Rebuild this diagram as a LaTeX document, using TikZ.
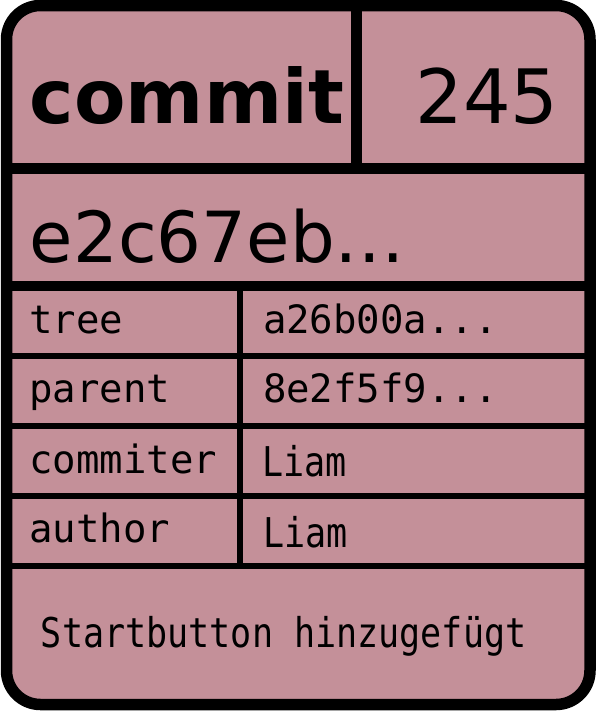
\documentclass[tikz,border=0pt]{standalone}
\usepackage{fontspec}
\newfontfamily\sansdv{DejaVu Sans}
\newfontfamily\monodv{DejaVu Sans Mono}
\newfontfamily\monodvnarrow[FakeStretch=0.855]{DejaVu Sans Mono}
\definecolor{cardfill}{RGB}{196,144,153}
\tikzset{
  frame/.style={draw=black, line width=11.5pt, fill=cardfill, rounded corners=34pt},
  heavyrule/.style={draw=black, line width=11pt, line cap=butt},
  lightrule/.style={draw=black, line width=6pt, line cap=butt},
  txt/.style={anchor=base west, inner sep=0pt, outer sep=0pt, text=black},
  title/.style={txt, font=\sansdv\bfseries\fontsize{75}{75}\selectfont},
  bignum/.style={txt, font=\sansdv\fontsize{75}{75}\selectfont},
  hash/.style={txt, font=\sansdv\fontsize{70.5}{70.5}\selectfont},
  field/.style={txt, font=\monodv\fontsize{39}{39}\selectfont},
  narrow/.style={txt, font=\monodvnarrow\fontsize{41}{41}\selectfont},
}
\begin{document}
\begin{tikzpicture}[x=1pt,y=-1pt]
\useasboundingbox (0,0) rectangle (600,713);
% card outline
\path[frame] (6.5,5.5) rectangle (590,704.5);
% header and hash separators
\draw[heavyrule] (6.5,168.5) -- (590,168.5);
\draw[heavyrule] (356.5,5.5) -- (356.5,168.5);
\draw[draw=black, line width=10pt] (6.5,285.5) -- (590,285.5);
% field table
\foreach \y in {356,426,496,566}
  \draw[lightrule] (6.5,\y) -- (590,\y);
\draw[lightrule] (240,285.5) -- (240,566);
% header
\node[title]  (kind)  at (30,123)  {commit};
\node[bignum] (size)  at (415.5,123) {245};
\node[hash]   (sha)   at (30,262)  {e2c67eb…};
% fields
\node[field]  (ktree)   at (29.5,333) {tree};
\node[field]  (vtree)   at (263,333) {a26b00a...};
\node[field]  (kparent) at (29.5,402) {parent};
\node[field]  (vparent) at (263,402) {8e2f5f9...};
\node[field]  (kcomm)   at (29.5,473) {commiter};
\node[narrow] (vcomm)   at (262.5,476) {Liam};
\node[field]  (kauth)   at (29.5,542) {author};
\node[narrow] (vauth)   at (263,547) {Liam};
% message
\node[narrow] (msg) at (41,647) {Startbutton hinzugefügt};
\end{tikzpicture}
\end{document}
